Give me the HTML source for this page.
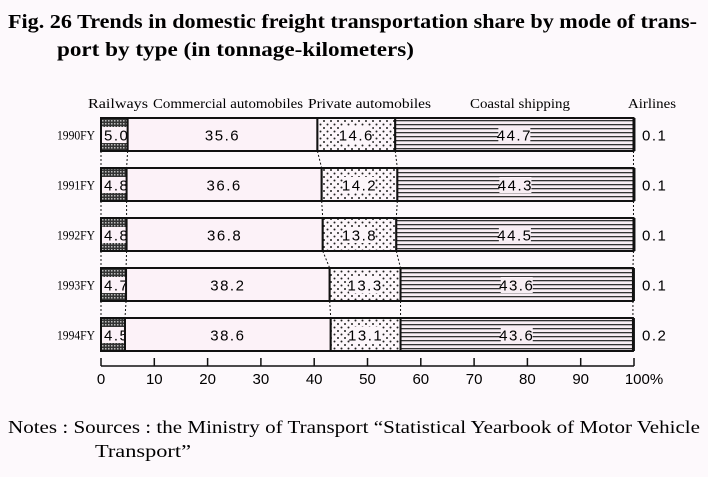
<!DOCTYPE html>
<html><head><meta charset="utf-8"><style>
body{margin:0;background:#fdf9fc;width:708px;height:472px;overflow:hidden;font-family:"Liberation Serif",serif}
</style></head><body>
<svg width="708" height="472" xmlns="http://www.w3.org/2000/svg">
<defs>
<pattern id="chk" width="3" height="3" patternUnits="userSpaceOnUse"><rect width="3" height="3" fill="#333"/><rect width="1.5" height="1.5" fill="#bbb"/></pattern>
<pattern id="dot" width="7" height="7" patternUnits="userSpaceOnUse"><rect width="7" height="7" fill="#fcf6fa"/><circle cx="2" cy="2" r="1" fill="#222"/><circle cx="5.5" cy="5.5" r="1" fill="#222"/></pattern>
<pattern id="hl" width="4" height="4" patternUnits="userSpaceOnUse"><rect width="4" height="4" fill="#f8eef4"/><rect y="0" width="4" height="1.3" fill="#333"/></pattern>
</defs>
<text x="8" y="28" font-size="20" font-weight="bold" textLength="689" lengthAdjust="spacingAndGlyphs">Fig. 26 Trends in domestic freight transportation share by mode of trans-</text>
<text x="57" y="56" font-size="20" font-weight="bold" textLength="357" lengthAdjust="spacingAndGlyphs">port by type (in tonnage-kilometers)</text>
<g font-size="14">
<text x="88" y="108" textLength="60" lengthAdjust="spacingAndGlyphs">Railways</text><text x="153" y="108" textLength="150" lengthAdjust="spacingAndGlyphs">Commercial automobiles</text>
<text x="308" y="108" textLength="123" lengthAdjust="spacingAndGlyphs">Private automobiles</text><text x="470" y="108" textLength="100" lengthAdjust="spacingAndGlyphs">Coastal shipping</text>
<text x="628" y="108" textLength="48" lengthAdjust="spacingAndGlyphs">Airlines</text></g>
<g id="bars"></g><g id="axis"></g>
<text x="8" y="433" font-size="18" textLength="692" lengthAdjust="spacingAndGlyphs">Notes : Sources : the Ministry of Transport “Statistical Yearbook of Motor Vehicle</text>
<text x="95" y="457" font-size="18" textLength="96" lengthAdjust="spacingAndGlyphs">Transport”</text>
</svg>
<script>
const years=["1990FY","1991FY","1992FY","1993FY","1994FY"];
const railways=[5.0,4.8,4.8,4.7,4.5];
const commercial=[35.6,36.6,36.8,38.2,38.6];
const privateAuto=[14.6,14.2,13.8,13.3,13.1];
const coastal=[44.7,44.3,44.5,43.6,43.6];
const airlines=[0.1,0.1,0.1,0.1,0.2];
const ticks=[0,10,20,30,40,50,60,70,80,90,100];
const NS="http://www.w3.org/2000/svg";
const x0=101,x1=634;const X=v=>x0+(x1-x0)*v/100;
const Y=i=>118+i*50;const H=33;
const g=document.getElementById('bars');
function mk(t,a,p){const e=document.createElementNS(NS,t);for(const k in a)e.setAttribute(k,a[k]);(p||g).appendChild(e);return e;}
const series=[["railways",railways,"url(#chk)"],["commercial",commercial,"#fcf2f8"],["private",privateAuto,"url(#dot)"],["coastal",coastal,"url(#hl)"]];
const vf='"Liberation Sans", sans-serif';
years.forEach((yr,i)=>{
  const y=Y(i);let c=0;const b=[];
  const lab=mk('text',{x:57,y:y+H/2+5,'font-size':13,textLength:38,lengthAdjust:'spacingAndGlyphs'});lab.textContent=yr;
  
  
  series.forEach(([n,arr,f])=>{
    const a=c;c+=arr[i];b.push(c);
    const r=mk('rect',{x:X(a),y:y,width:X(c)-X(a),height:H,fill:f,stroke:'#111','stroke-width':2});
    
    
    const cx=(X(a)+X(c))/2;
    if(n==='railways'){
      const bg=mk('rect',{x:X(a)+1,y:y+9,width:26,height:16,fill:'#fcf2f8'});
      
      
    }
    if(n==='private'||n==='coastal'){
      const bg=mk('rect',{x:cx-16,y:y+9,width:32,height:16,fill:n==='private'?'#fcf6fa':'#f8eef4'});
      
      
    }
    const t=mk('text',{x:n==='railways'?X(a)+3:cx,y:y+H/2+6,'font-size':15,'font-family':vf,'letter-spacing':'1.5','text-anchor':n==='railways'?'start':'middle'});
    t.textContent=arr[i].toFixed(1);
    
    
  });
  const e=mk('rect',{x:X(c),y:y,width:2,height:H,fill:'#111'});
  
  
  const at=mk('text',{x:642,y:y+H/2+6,'font-size':15,'font-family':vf,'letter-spacing':'1.5'});at.textContent=airlines[i].toFixed(1);
  
  
  [0].concat(b).forEach((v,k)=>{
    const top=Y(i)+H;
    if(i<years.length-1){
      const bot=Y(i+1);
      const nb=[0];let cc=0;series.forEach(s=>{cc+=s[1][i+1];nb.push(cc);});
      const l=mk('line',{x1:X(v),y1:top,x2:X(nb[k]),y2:bot,stroke:'#111','stroke-width':1,'stroke-dasharray':'2,2'});
      
      
    }
  });
});
const ax=document.getElementById('axis');
const al=mk('line',{x1:x0,y1:366,x2:x1,y2:366,stroke:'#111','stroke-width':1.5},ax);


ticks.forEach(t=>{
  const l=mk('line',{x1:X(t),y1:358,x2:X(t),y2:366,stroke:'#111','stroke-width':1.5},ax);
  
  
  const tx=mk('text',{x:X(t),y:384,'font-size':15,'font-family':vf,'text-anchor':'middle'},ax);
  tx.textContent=t===100?'100%':t;
  if(t===100)tx.setAttribute('x',X(t)+10);
  
  
});
</script>
</body></html>
